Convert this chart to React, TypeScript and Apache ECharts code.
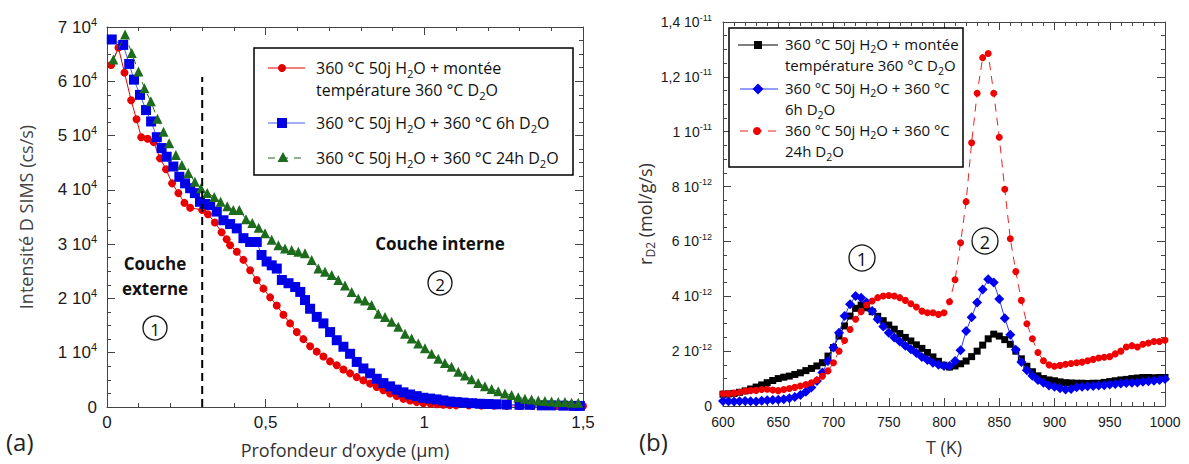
import React, { useEffect, useRef } from "react";
import * as echarts from "echarts";

// ---------- (a) SIMS depth profiles (intensity in units of 1e4 cs/s) ----------
const redDepth = [0.013, 0.036, 0.055, 0.076, 0.093, 0.108, 0.128, 0.147, 0.167, 0.186, 0.205, 0.225, 0.244, 0.262, 0.3, 0.318, 0.34, 0.361, 0.377, 0.388, 0.409, 0.43, 0.451, 0.472, 0.493, 0.514, 0.535, 0.556, 0.577, 0.598, 0.619, 0.64, 0.661, 0.682, 0.703, 0.724, 0.745, 0.766, 0.787, 0.808, 0.829, 0.85, 0.871, 0.892, 0.913, 0.934, 0.955, 0.976, 0.997, 1.02, 1.04, 1.06, 1.08, 1.1, 1.14, 1.18, 1.22, 1.26, 1.3, 1.34, 1.38, 1.42, 1.46, 1.5];
const redIntensity = [6.3, 6.62, 6.16, 5.65, 5.3, 4.97, 4.94, 4.88, 4.58, 4.38, 4.12, 3.94, 3.76, 3.67, 3.63, 3.55, 3.4, 3.22, 3.09, 2.98, 2.86, 2.71, 2.52, 2.34, 2.18, 2.02, 1.87, 1.7, 1.54, 1.38, 1.25, 1.12, 1.02, 0.93, 0.84, 0.77, 0.69, 0.62, 0.55, 0.49, 0.43, 0.37, 0.31, 0.25, 0.2, 0.15, 0.12, 0.09, 0.07, 0.06, 0.05, 0.04, 0.035, 0.03, 0.03, 0.025, 0.025, 0.02, 0.02, 0.02, 0.02, 0.02, 0.02, 0.02];

const blueDepth = [0.015, 0.051, 0.07, 0.085, 0.104, 0.123, 0.139, 0.157, 0.172, 0.188, 0.209, 0.228, 0.246, 0.262, 0.277, 0.293, 0.309, 0.325, 0.346, 0.367, 0.388, 0.409, 0.43, 0.451, 0.472, 0.487, 0.503, 0.519, 0.535, 0.551, 0.572, 0.593, 0.609, 0.624, 0.64, 0.661, 0.682, 0.703, 0.724, 0.745, 0.766, 0.787, 0.808, 0.829, 0.85, 0.871, 0.892, 0.913, 0.934, 0.955, 0.976, 0.997, 1.018, 1.039, 1.06, 1.081, 1.102, 1.123, 1.15, 1.176, 1.202, 1.228, 1.26, 1.3, 1.333, 1.37, 1.4, 1.438, 1.47, 1.49];
const blueIntensity = [6.77, 6.67, 6.32, 6.03, 5.75, 5.47, 5.26, 4.97, 4.77, 4.61, 4.43, 4.24, 4.12, 4.03, 3.94, 3.78, 3.74, 3.72, 3.6, 3.44, 3.37, 3.29, 3.11, 3.04, 3.04, 2.8, 2.68, 2.61, 2.55, 2.34, 2.28, 2.21, 2.12, 1.97, 1.81, 1.66, 1.54, 1.38, 1.23, 1.11, 0.98, 0.83, 0.71, 0.62, 0.52, 0.44, 0.38, 0.32, 0.27, 0.23, 0.2, 0.17, 0.155, 0.14, 0.12, 0.1, 0.09, 0.08, 0.07, 0.06, 0.055, 0.05, 0.045, 0.04, 0.04, 0.03, 0.03, 0.025, 0.02, 0.02];

const greenDepth = [0.02, 0.057, 0.078, 0.099, 0.118, 0.138, 0.159, 0.178, 0.196, 0.217, 0.236, 0.256, 0.277, 0.296, 0.316, 0.338, 0.358, 0.379, 0.398, 0.417, 0.438, 0.458, 0.478, 0.498, 0.519, 0.54, 0.561, 0.582, 0.603, 0.624, 0.645, 0.666, 0.687, 0.708, 0.729, 0.75, 0.771, 0.792, 0.813, 0.834, 0.855, 0.876, 0.897, 0.918, 0.939, 0.96, 0.981, 1.002, 1.023, 1.044, 1.065, 1.086, 1.107, 1.128, 1.149, 1.17, 1.191, 1.212, 1.233, 1.254, 1.275, 1.296, 1.317, 1.338, 1.359, 1.38, 1.401, 1.422, 1.443, 1.464, 1.485];
const greenIntensity = [6.4, 6.86, 6.52, 6.18, 5.87, 5.63, 5.31, 5.07, 4.86, 4.64, 4.46, 4.31, 4.15, 4.03, 3.94, 3.87, 3.78, 3.7, 3.63, 3.63, 3.46, 3.39, 3.3, 3.2, 3.08, 2.98, 2.92, 2.89, 2.86, 2.83, 2.71, 2.55, 2.49, 2.43, 2.34, 2.24, 2.12, 2.0, 1.96, 1.88, 1.72, 1.66, 1.57, 1.48, 1.35, 1.26, 1.17, 1.08, 0.98, 0.89, 0.81, 0.74, 0.65, 0.58, 0.51, 0.44, 0.38, 0.33, 0.29, 0.25, 0.22, 0.18, 0.15, 0.14, 0.12, 0.11, 0.1, 0.09, 0.09, 0.08, 0.08];

const boundaryDepth = [0.3, 0.3];
const boundaryIntensity = [0, 6.08];

// ---------- (b) TDS desorption rate (units of 1e-12 mol/g/s) ----------
const temperatureK = [600, 605, 610, 615, 620, 625, 630, 635, 640, 645, 650, 655, 660, 665, 670, 675, 680, 685, 690, 695, 700, 705, 710, 715, 720, 725, 730, 735, 740, 745, 750, 755, 760, 765, 770, 775, 780, 785, 790, 795, 800, 805, 810, 815, 820, 825, 830, 835, 840, 845, 850, 855, 860, 865, 870, 875, 880, 885, 890, 895, 900, 905, 910, 915, 920, 925, 930, 935, 940, 945, 950, 955, 960, 965, 970, 975, 980, 985, 990, 995, 1000];
const blackRate = [0.43, 0.44, 0.46, 0.5, 0.55, 0.62, 0.69, 0.77, 0.85, 0.93, 1.0, 1.05, 1.09, 1.15, 1.21, 1.29, 1.37, 1.46, 1.58, 1.82, 2.13, 2.55, 2.92, 3.28, 3.56, 3.68, 3.58, 3.44, 3.27, 3.11, 2.95, 2.8, 2.64, 2.5, 2.37, 2.23, 2.1, 1.95, 1.79, 1.63, 1.49, 1.42, 1.46, 1.54, 1.64, 1.8, 2.0, 2.22, 2.45, 2.62, 2.55, 2.42, 2.25, 2.0, 1.72, 1.45, 1.25, 1.1, 1.0, 0.95, 0.92, 0.88, 0.85, 0.84, 0.83, 0.83, 0.82, 0.83, 0.83, 0.86, 0.89, 0.92, 0.95, 0.97, 1.0, 1.02, 1.04, 1.04, 1.03, 1.04, 1.04];
const blueRate = [0.18, 0.17, 0.16, 0.17, 0.18, 0.17, 0.16, 0.19, 0.21, 0.22, 0.23, 0.25, 0.28, 0.33, 0.4, 0.52, 0.67, 0.91, 1.22, 1.64, 2.13, 2.67, 3.28, 3.71, 4.01, 3.95, 3.77, 3.46, 3.16, 2.9, 2.67, 2.5, 2.35, 2.2, 2.07, 1.93, 1.79, 1.68, 1.58, 1.5, 1.46, 1.46, 1.64, 2.03, 2.73, 3.24, 3.77, 4.25, 4.62, 4.5, 3.9, 3.2, 2.6, 2.05, 1.6, 1.3, 1.1, 0.95, 0.85, 0.75, 0.7, 0.65, 0.6, 0.62, 0.68, 0.7, 0.72, 0.73, 0.75, 0.76, 0.78, 0.8, 0.82, 0.84, 0.85, 0.86, 0.88, 0.9, 0.92, 0.95, 0.98];
const redRate = [0.45, 0.45, 0.47, 0.5, 0.55, 0.56, 0.57, 0.6, 0.61, 0.58, 0.56, 0.6, 0.64, 0.68, 0.73, 0.78, 0.85, 0.95, 1.09, 1.28, 1.58, 2.0, 2.39, 2.79, 3.16, 3.44, 3.68, 3.83, 3.95, 4.01, 4.03, 4.01, 3.95, 3.85, 3.73, 3.61, 3.46, 3.4, 3.4, 3.34, 3.4, 3.8, 4.6, 5.95, 7.45, 9.6, 11.4, 12.7, 12.85, 11.4, 9.8, 7.9, 6.1, 4.9, 3.85, 3.0, 2.45, 1.95, 1.65, 1.5, 1.45, 1.48, 1.52, 1.55, 1.58, 1.6, 1.65, 1.7, 1.75, 1.78, 1.8, 1.9, 2.0, 2.15, 2.2, 2.15, 2.25, 2.3, 2.35, 2.35, 2.4];

const leftXTicks = { min: 0, max: 1.5, interval: 0.5 };
const leftYTicks = { min: 0, max: 7, interval: 1 };
const rightXTicks = { min: 600, max: 1000, interval: 50 };
const rightYTicks = { min: 0, max: 14, interval: 2 };

const TICK_FONT = "'Liberation Sans', Arial, sans-serif";
const TEXT_FONT = "'Open Sans', 'Noto Sans', sans-serif";
const FRAME = "#444";

const pairs = (xs: number[], ys: number[]) => xs.map((x, i) => [x, ys[i]]);

function frameAxis(common: any, extra: any) {
  return {
    type: "value",
    ...common,
    splitLine: { show: false },
    axisLine: { show: true, onZero: false, lineStyle: { color: FRAME, width: 1 } },
    axisTick: { show: true, inside: true, length: 8, lineStyle: { color: FRAME, width: 1 } },
    minorTick: { show: true, length: 4, lineStyle: { color: FRAME, width: 1 }, splitNumber: common.minorSplit },
    ...extra,
  };
}

function buildOption() {
  const leftYLabel = (v: number) => (v === 0 ? "0" : `{a|${v} 10}{s|4}`);
  const rightYLabel = (v: number) =>
    v === 0 ? "0" : v < 10 ? `{a|${v} 10}{s|-12}` : `{a|${String(v / 10).replace(".", ",")} 10}{s|-11}`;

  const leftRich = {
    a: { fontSize: 17, fontFamily: TICK_FONT, color: "#1a1a1a", lineHeight: 22 },
    s: { fontSize: 11, fontFamily: TICK_FONT, color: "#1a1a1a", verticalAlign: "top", lineHeight: 12 },
  };
  const rightRich = {
    a: { fontSize: 14, fontFamily: TICK_FONT, color: "#1a1a1a", lineHeight: 18 },
    s: { fontSize: 9, fontFamily: TICK_FONT, color: "#1a1a1a", verticalAlign: "top", lineHeight: 10 },
  };

  const sub = (size: number, lh: number) => ({ fontSize: size, fontFamily: TEXT_FONT, fill: "#111", verticalAlign: "bottom", lineHeight: lh });

  const legendText = (x: number, y: number, text: string, size: number, lh: number) => ({
    type: "text",
    x,
    y,
    z: 100,
    style: {
      text,
      fontSize: size,
      fontFamily: TEXT_FONT,
      fill: "#111",
      lineHeight: lh,
      verticalAlign: "top",
      align: "left",
      rich: { s: sub(size * 0.7, lh * 0.72) },
    },
  });

  const circled = (cx: number, cy: number, r: number, label: string, size: number) => [
    { type: "circle", z: 100, shape: { cx, cy, r }, style: { fill: "none", stroke: "#111", lineWidth: 1.3 } },
    {
      type: "text",
      z: 100,
      x: cx,
      y: cy + 1,
      style: { text: label, fontSize: size, fontFamily: TEXT_FONT, fill: "#111", align: "center", verticalAlign: "middle" },
    },
  ];

  const graphic: any[] = [
    // panel letters
    { type: "text", x: 6, y: 441, style: { text: "(a)", fontSize: 24, fontFamily: TEXT_FONT, fill: "#222", verticalAlign: "middle" } },
    { type: "text", x: 639, y: 441, style: { text: "(b)", fontSize: 24, fontFamily: TEXT_FONT, fill: "#222", verticalAlign: "middle" } },
    // left annotations
    {
      type: "text", x: 155, y: 276, z: 100,
      style: { text: "Couche\nexterne", fontSize: 17, fontWeight: "bold", fontFamily: TEXT_FONT, fill: "#111", align: "center", verticalAlign: "middle", lineHeight: 25 },
    },
    ...circled(155, 328, 12, "1", 17),
    {
      type: "text", x: 440, y: 243, z: 100,
      style: { text: "Couche interne", fontSize: 17, fontWeight: "bold", fontFamily: TEXT_FONT, fill: "#111", align: "center", verticalAlign: "middle" },
    },
    ...circled(440, 283, 12, "2", 17),
    // right annotations
    ...circled(862, 258, 13, "1", 18),
    ...circled(985, 241, 13, "2", 18),

    // left legend
    { type: "rect", z: 90, shape: { x: 254, y: 48, width: 319, height: 127 }, style: { fill: "#fff", stroke: "#000", lineWidth: 1.5 } },
    { type: "line", z: 95, shape: { x1: 268, y1: 68, x2: 305, y2: 68 }, style: { stroke: "#e00000", lineWidth: 1.2 } },
    { type: "circle", z: 96, shape: { cx: 282, cy: 68, r: 4 }, style: { fill: "#e00000" } },
    legendText(316, 57, "360 °C 50j H{s|2}O + montée\ntempérature 360 °C D{s|2}O", 16, 22),
    { type: "line", z: 95, shape: { x1: 268, y1: 123, x2: 305, y2: 123 }, style: { stroke: "#4a5cf0", lineWidth: 1.2 } },
    { type: "rect", z: 96, shape: { x: 277, y: 118, width: 10, height: 10 }, style: { fill: "#0000e6" } },
    legendText(316, 112, "360 °C 50j H{s|2}O + 360 °C 6h D{s|2}O", 16, 22),
    { type: "line", z: 95, shape: { x1: 268, y1: 158, x2: 305, y2: 158 }, style: { stroke: "#1d6b1d", lineWidth: 1.2, lineDash: [7, 6] } },
    { type: "polygon", z: 96, shape: { points: [[283, 152], [277.5, 162], [288.5, 162]] }, style: { fill: "#1d6b1d" } },
    legendText(316, 147, "360 °C 50j H{s|2}O + 360 °C 24h D{s|2}O", 16, 22),

    // right legend
    { type: "rect", z: 90, shape: { x: 729, y: 28, width: 234, height: 139 }, style: { fill: "#fff", stroke: "#000", lineWidth: 1.5 } },
    { type: "line", z: 95, shape: { x1: 738, y1: 45, x2: 778, y2: 45 }, style: { stroke: "#000", lineWidth: 1.2 } },
    { type: "rect", z: 96, shape: { x: 754, y: 41, width: 8, height: 8 }, style: { fill: "#000" } },
    legendText(785, 33, "360 °C 50j H{s|2}O + montée\ntempérature 360 °C D{s|2}O", 15, 21.5),
    { type: "line", z: 95, shape: { x1: 740, y1: 89, x2: 778, y2: 89 }, style: { stroke: "#2a3cff", lineWidth: 1 } },
    { type: "polygon", z: 96, shape: { points: [[758, 83.5], [763.5, 89], [758, 94.5], [752.5, 89]] }, style: { fill: "#0000f0" } },
    legendText(785, 77, "360 °C 50j H{s|2}O + 360 °C\n6h D{s|2}O", 15, 21.5),
    { type: "line", z: 95, shape: { x1: 740, y1: 131, x2: 778, y2: 131 }, style: { stroke: "#f02020", lineWidth: 1.2, lineDash: [8, 6] } },
    { type: "circle", z: 96, shape: { cx: 757, cy: 131, r: 4 }, style: { fill: "#f00000" } },
    legendText(785, 119, "360 °C 50j H{s|2}O + 360 °C\n24h D{s|2}O", 15, 21.5),
  ];

  const leftXCommon = { gridIndex: 0, ...leftXTicks, minorSplit: 5 };
  const leftYCommon = { gridIndex: 0, ...leftYTicks, minorSplit: 4 };
  const rightXCommon = { gridIndex: 1, ...rightXTicks, minorSplit: 5 };
  const rightYCommon = { gridIndex: 1, ...rightYTicks, minorSplit: 4 };
  const strip = (o: any) => { const { minorSplit, ...rest } = o; return rest; };

  return {
    animation: false,
    backgroundColor: "#fff",
    grid: [
      { left: 107, top: 27, width: 476, height: 380 },
      { left: 723, top: 22, width: 442, height: 384 },
    ],
    xAxis: [
      frameAxis(leftXCommon, {
        ...strip(leftXCommon),
        position: "bottom",
        name: "Profondeur d’oxyde (µm)",
        nameLocation: "middle",
        nameGap: 34,
        nameTextStyle: { fontSize: 18, fontFamily: TEXT_FONT, color: "#333" },
        axisLabel: {
          fontSize: 17, fontFamily: TICK_FONT, color: "#1a1a1a", margin: 7,
          formatter: (v: number) => String(v).replace(".", ","),
        },
      }),
      frameAxis(leftXCommon, { ...strip(leftXCommon), position: "top", axisLabel: { show: false } }),
      frameAxis(rightXCommon, {
        ...strip(rightXCommon),
        position: "bottom",
        name: "T (K)",
        nameLocation: "middle",
        nameGap: 32,
        nameTextStyle: { fontSize: 18, fontFamily: TEXT_FONT, color: "#333" },
        axisLabel: { fontSize: 14, fontFamily: TICK_FONT, color: "#1a1a1a", margin: 9, formatter: (v: number) => String(v) },
      }),
      frameAxis(rightXCommon, { ...strip(rightXCommon), position: "top", axisLabel: { show: false } }),
    ],
    yAxis: [
      frameAxis(leftYCommon, {
        ...strip(leftYCommon),
        position: "left",
        name: "Intensité D SIMS (cs/s)",
        nameLocation: "middle",
        nameGap: 72,
        nameTextStyle: { fontSize: 18, fontFamily: TEXT_FONT, color: "#444" },
        axisLabel: { fontSize: 17, fontFamily: TICK_FONT, color: "#1a1a1a", margin: 10, formatter: leftYLabel, rich: leftRich },
      }),
      frameAxis(leftYCommon, { ...strip(leftYCommon), position: "right", axisLabel: { show: false } }),
      frameAxis(rightYCommon, {
        ...strip(rightYCommon),
        position: "left",
        name: "{a|r}{b|D2}{a| (mol/g/s)}",
        nameLocation: "middle",
        nameGap: 58,
        nameTextStyle: {
          rich: {
            a: { fontSize: 18, fontFamily: TEXT_FONT, color: "#333", lineHeight: 24 },
            b: { fontSize: 12, fontFamily: TEXT_FONT, color: "#333", verticalAlign: "bottom", lineHeight: 16 },
          },
        },
        axisLabel: { fontSize: 14, fontFamily: TICK_FONT, color: "#1a1a1a", margin: 11, formatter: rightYLabel, rich: rightRich },
      }),
      frameAxis(rightYCommon, { ...strip(rightYCommon), position: "right", axisLabel: { show: false } }),
    ],
    series: [
      {
        name: "red-a", type: "line", xAxisIndex: 0, yAxisIndex: 0, data: pairs(redDepth, redIntensity),
        symbol: "circle", symbolSize: 8, itemStyle: { color: "#e80000" }, lineStyle: { color: "#e80000", width: 1 }, z: 3,
      },
      {
        name: "blue-a", type: "line", xAxisIndex: 0, yAxisIndex: 0, data: pairs(blueDepth, blueIntensity),
        symbol: "rect", symbolSize: 10, itemStyle: { color: "#0000e6" }, lineStyle: { color: "#4a5cf0", width: 1 }, z: 4,
      },
      {
        name: "green-a", type: "line", xAxisIndex: 0, yAxisIndex: 0, data: pairs(greenDepth, greenIntensity),
        symbol: "triangle", symbolSize: 10, itemStyle: { color: "#1d6b1d" }, lineStyle: { color: "#1d6b1d", width: 1, type: [7, 6] }, z: 5,
      },
      {
        name: "boundary", type: "line", xAxisIndex: 0, yAxisIndex: 0, data: pairs(boundaryDepth, boundaryIntensity),
        symbol: "none", lineStyle: { color: "#000", width: 2, type: [8, 5] }, z: 10,
      },
      {
        name: "black-b", type: "line", xAxisIndex: 2, yAxisIndex: 2, data: pairs(temperatureK, blackRate),
        symbol: "rect", symbolSize: 7, itemStyle: { color: "#000" }, lineStyle: { color: "#000", width: 1 }, z: 3,
      },
      {
        name: "blue-b", type: "line", xAxisIndex: 2, yAxisIndex: 2, data: pairs(temperatureK, blueRate),
        symbol: "diamond", symbolSize: 10, itemStyle: { color: "#0000f0" }, lineStyle: { color: "#2a3cff", width: 1 }, z: 4,
      },
      {
        name: "red-b", type: "line", xAxisIndex: 2, yAxisIndex: 2, data: pairs(temperatureK, redRate),
        symbol: "circle", symbolSize: 7, itemStyle: { color: "#f00000" }, lineStyle: { color: "#f02020", width: 1, type: [8, 6] }, z: 5,
      },
    ],
    graphic,
  };
}

export default function App() {
  const ref = useRef<HTMLDivElement>(null);
  useEffect(() => {
    document.body.style.margin = "0";
    const chart = echarts.init(ref.current!, null, { renderer: "svg" });
    chart.setOption(buildOption() as any);
    return () => chart.dispose();
  }, []);
  return <div ref={ref} style={{ width: 1189, height: 464 }} />;
}
